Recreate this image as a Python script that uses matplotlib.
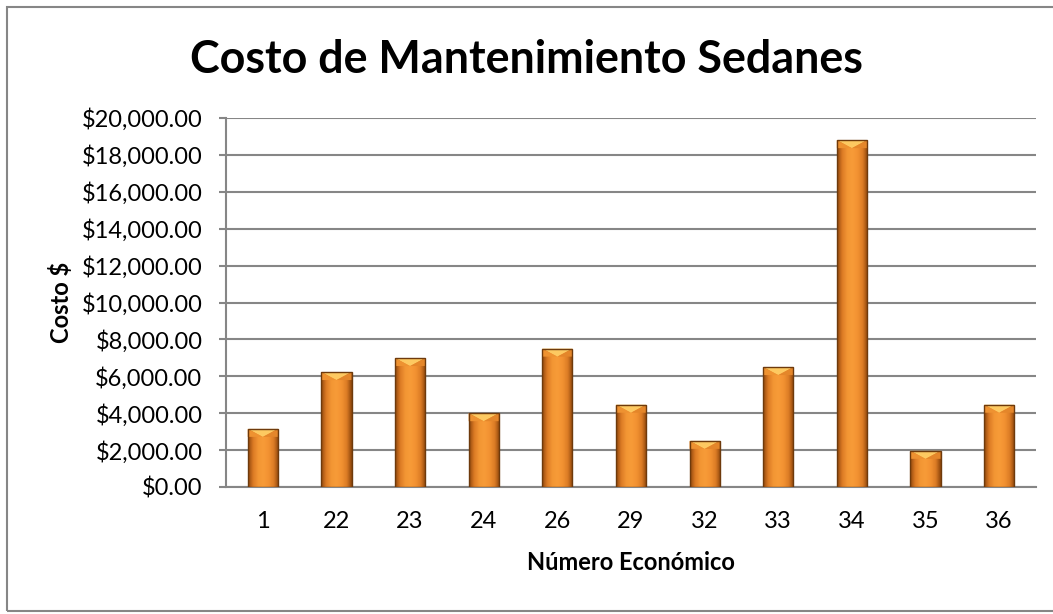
import matplotlib
matplotlib.use("Agg")
import matplotlib.pyplot as plt
import numpy as np
from matplotlib.colors import LinearSegmentedColormap
from matplotlib.patches import Rectangle, Polygon

categories = ["1", "22", "23", "24", "26", "29", "32", "33", "34", "35", "36"]
costs = [3150, 6230, 6990, 4000, 7500, 4460, 2500, 6500, 18800, 1960, 4460]
yticks = [0, 2000, 4000, 6000, 8000, 10000, 12000, 14000, 16000, 18000, 20000]

plt.rcParams['font.family'] = ['Lato', 'DejaVu Sans']

W, H = 1053, 614
fig = plt.figure(figsize=(W / 100, H / 100), dpi=100)
fig.patch.set_facecolor("white")

# outer chart border
fig.add_artist(Rectangle((6.5 / W, 3.5 / H), (W + 10) / W, (H - 10) / H,
                         transform=fig.transFigure, fill=False,
                         edgecolor="#868686", linewidth=1.5))

ax = fig.add_axes([226 / W, (H - 487) / H, (1036 - 226) / W, (487 - 118) / H])
x = np.arange(len(categories))
bars = ax.bar(x, costs, width=0.41, color="#F39530", zorder=3)

ax.set_ylim(0, 20000)
ax.set_xlim(-0.5, len(categories) - 0.5)
ax.set_yticks(yticks)
ax.set_yticklabels([f"${v:,.2f}" for v in yticks], fontsize=17)
ax.set_xticks(x)
ax.set_xticklabels(categories, fontsize=17)
ax.tick_params(axis="y", length=5, width=1.5, color="#868686", pad=12)
ax.tick_params(axis="x", length=0, pad=17)
ax.grid(axis="y", color="#868686", linewidth=1.5, zorder=0)
ax.set_axisbelow(True)
for s in ["top", "right"]:
    ax.spines[s].set_visible(False)
for s in ["left", "bottom"]:
    ax.spines[s].set_color("#868686")
    ax.spines[s].set_linewidth(1.5)

ax.set_ylabel("Costo $", fontsize=17, fontweight="bold", labelpad=6)
ax.set_xlabel("Número Económico", fontsize=17, fontweight="bold", labelpad=14)
fig.suptitle("Costo de Mantenimiento Sedanes", fontsize=32.3, fontweight="bold",
             y=(H - 60) / H, va="center")

# bevelled gradient look for bars
cmap = LinearSegmentedColormap.from_list(
    "bar", ["#8E450C", "#DB7A24", "#F39634", "#F79B38", "#F29232", "#DC7C25", "#8A430A"])
grad = np.linspace(0, 1, 256).reshape(1, -1)
fig.canvas.draw()
px_per_unit = ax.transData.transform((0, 1000))[1] - ax.transData.transform((0, 0))[1]
bevel = 8 * 1000 / px_per_unit
for b in bars:
    x0, w, h = b.get_x(), b.get_width(), b.get_height()
    im = ax.imshow(grad, cmap=cmap, extent=(x0, x0 + w, 0, h), aspect="auto",
                   zorder=3.5, interpolation="bicubic")
    im.set_clip_path(b)
    bh = min(bevel, h / 2)
    ax.add_patch(Polygon([(x0, h), (x0 + w, h), (x0 + w * 0.5, h - bh)],
                         closed=True, facecolor="#FDC961", edgecolor="none", zorder=4))
    ax.add_patch(Polygon([(x0, h), (x0 + w * 0.5, h - bh), (x0, h - bh)],
                         closed=True, facecolor="#EE9231", edgecolor="none", zorder=4))
    ax.add_patch(Polygon([(x0 + w, h), (x0 + w * 0.5, h - bh), (x0 + w, h - bh)],
                         closed=True, facecolor="#E4862A", edgecolor="none", zorder=4))
    ax.add_patch(Rectangle((x0, 0), w, h, fill=False, edgecolor="#6E3A0C",
                           linewidth=1.0, zorder=4.5))
ax.set_xlim(-0.5, len(categories) - 0.5)
ax.set_ylim(0, 20000)

fig.savefig("out.png", dpi=100, facecolor="white")
